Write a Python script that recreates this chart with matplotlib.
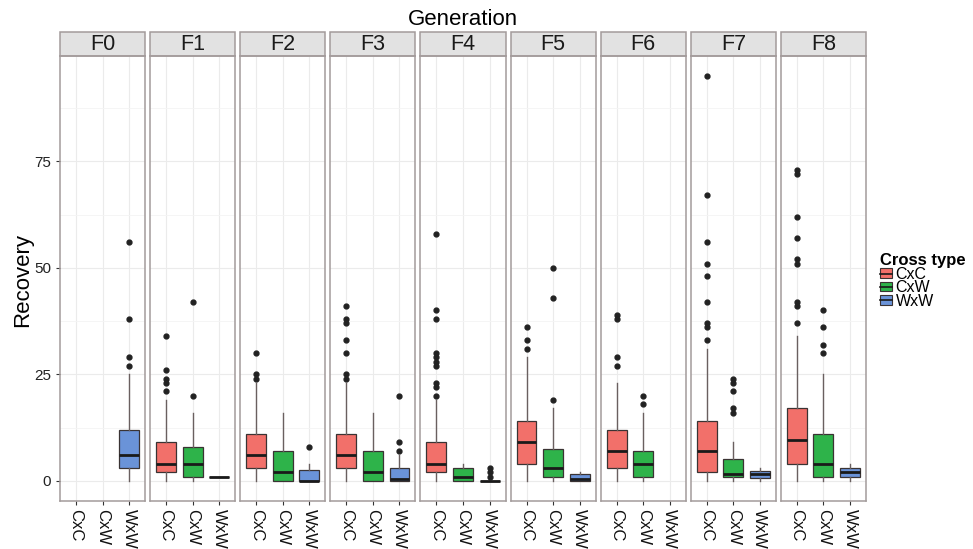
import numpy as np
import matplotlib
matplotlib.use('Agg')
import matplotlib.pyplot as plt
from matplotlib.patches import Patch, Rectangle
from matplotlib.lines import Line2D
from matplotlib.ticker import FixedLocator

plt.rcParams['font.family'] = ['Liberation Sans', 'DejaVu Sans']

nan = np.nan
generations = ['F0', 'F1', 'F2', 'F3', 'F4', 'F5', 'F6', 'F7', 'F8']
cross_types = ['CxC', 'CxW', 'WxW']

# box statistics per generation (nan = no data for that cross type)
cxc_lo = [nan, 0, 0, 0, 0, 0, 0, 0, 0]
cxc_q1 = [nan, 2, 3, 3, 2, 4, 3, 2, 4]
cxc_med = [nan, 4, 6, 6, 4, 9, 7, 7, 9.5]
cxc_q3 = [nan, 9, 11, 11, 9, 14, 12, 14, 17]
cxc_hi = [nan, 19, 23, 23, 19, 29, 23, 31, 34]
cxc_out = [[], [34, 26, 24, 23, 21], [30, 25, 24], [41, 38, 37, 33, 30, 25, 24],
           [58, 40, 38, 30, 29, 28, 27, 23, 22, 20], [36, 33, 31], [39, 38, 29, 27],
           [95, 67, 56, 51, 48, 42, 37, 36, 33], [73, 72, 62, 57, 52, 51, 42, 41, 37]]

cxw_lo = [nan, 0, 0, 0, 0, 0, 0, 0, 0]
cxw_q1 = [nan, 1, 0, 0, 0, 1, 1, 1, 1]
cxw_med = [nan, 4, 2, 2, 1, 3, 4, 1.5, 4]
cxw_q3 = [nan, 8, 7, 7, 3, 7.5, 7, 5, 11]
cxw_hi = [nan, 16, 16, 16, 4, 17, 16, 9, 25]
cxw_out = [[], [42, 20], [], [], [], [50, 43, 19], [20, 18], [24, 23, 21, 17, 16],
           [40, 36, 32, 30]]

wxw_lo = [0, 1, 0, 0, 0, 0, nan, 0, 0]
wxw_q1 = [3, 1, 0, 0, 0, 0, nan, 0.7, 1]
wxw_med = [6, 1, 0, 0.5, 0, 0.5, nan, 1.5, 2]
wxw_q3 = [12, 1, 2.5, 3, 0, 1.5, nan, 2.2, 3]
wxw_hi = [25, 1, 4, 6, 0, 2, nan, 3, 4]
wxw_out = [[56, 38, 29, 27], [], [8], [20, 9, 7], [3, 2, 1], [], [], [], []]

colors = ['#F2706A', '#2EB34A', '#6A93D8']

series = [
    (cxc_lo, cxc_q1, cxc_med, cxc_q3, cxc_hi, cxc_out),
    (cxw_lo, cxw_q1, cxw_med, cxw_q3, cxw_hi, cxw_out),
    (wxw_lo, wxw_q1, wxw_med, wxw_q3, wxw_hi, wxw_out),
]

fig, axes = plt.subplots(1, 9, figsize=(9.73, 5.49), dpi=100, sharey=True)
fig.subplots_adjust(left=0.0617, right=0.890, top=0.898, bottom=0.0874, wspace=0.059)

border = '#a39b9b'
for i, ax in enumerate(axes):
    stats, pos, cols = [], [], []
    for j, (lo, q1, med, q3, hi, out) in enumerate(series):
        if np.isnan(med[i]):
            continue
        stats.append(dict(med=med[i], q1=q1[i], q3=q3[i], whislo=lo[i],
                          whishi=hi[i], fliers=out[i]))
        pos.append(j + 1)
        cols.append(colors[j])
    bp = ax.bxp(stats, positions=pos, widths=0.75, patch_artist=True, showcaps=False,
                boxprops=dict(edgecolor='#3a3333', linewidth=0.9),
                medianprops=dict(color='#1a1a1a', linewidth=2),
                whiskerprops=dict(color='#6a6060', linewidth=1),
                flierprops=dict(marker='o', markersize=3.5, markerfacecolor='#222222',
                                markeredgecolor='#222222'))
    for patch, c in zip(bp['boxes'], cols):
        patch.set_facecolor(c)

    ax.set_xlim(0.4, 3.6)
    ax.set_ylim(-4.75, 99.75)
    ax.set_xticks([1, 2, 3])
    ax.set_xticklabels(cross_types, rotation=-90, fontsize=12, ha='center', va='top')
    ax.set_yticks([0, 25, 50, 75])
    ax.yaxis.set_minor_locator(FixedLocator([12.5, 37.5, 62.5, 87.5]))
    ax.xaxis.set_minor_locator(FixedLocator([]))
    ax.grid(True, which='major', color='#ebebeb', linewidth=0.8)
    ax.grid(True, which='minor', axis='y', color='#f4f4f4', linewidth=0.6)
    ax.set_axisbelow(True)
    ax.tick_params(axis='x', length=3, color='#333333', labelcolor='#111111', pad=3)
    ax.tick_params(axis='y', which='minor', length=0)
    if i == 0:
        ax.tick_params(axis='y', length=3, color='#333333', labelsize=11,
                       labelcolor='#222222')
    else:
        ax.tick_params(axis='y', length=0, labelleft=False)
    for sp in ax.spines.values():
        sp.set_color(border)
        sp.set_linewidth(1.1)
    ax.add_patch(Rectangle((0, 1), 1, 0.053, transform=ax.transAxes, clip_on=False,
                           facecolor='#e2e2e2', edgecolor=border, linewidth=1.1))
    ax.text(0.5, 1.0265, generations[i], transform=ax.transAxes, ha='center',
            va='center', fontsize=15.5, color='#1a1a1a')

fig.text(0.476, 0.965, 'Generation', ha='center', va='center', fontsize=16)
fig.text(0.023, 0.49, 'Recovery', ha='center', va='center', rotation=90, fontsize=16)

handles = [(Patch(facecolor=c, edgecolor='#3a3333', linewidth=0.8),
            Line2D([], [], color='#1a1a1a', linewidth=1.2)) for c in colors]
leg = fig.legend(handles, cross_types, title='Cross type', loc='center left',
                 bbox_to_anchor=(0.904, 0.488), frameon=False, fontsize=11.5,
                 title_fontproperties={'weight': 'bold', 'size': 12},
                 handlelength=0.8, handleheight=0.55, handletextpad=0.2,
                 labelspacing=-0.1, borderpad=0, borderaxespad=0, alignment='left')

fig.savefig('out.png', dpi=100)
